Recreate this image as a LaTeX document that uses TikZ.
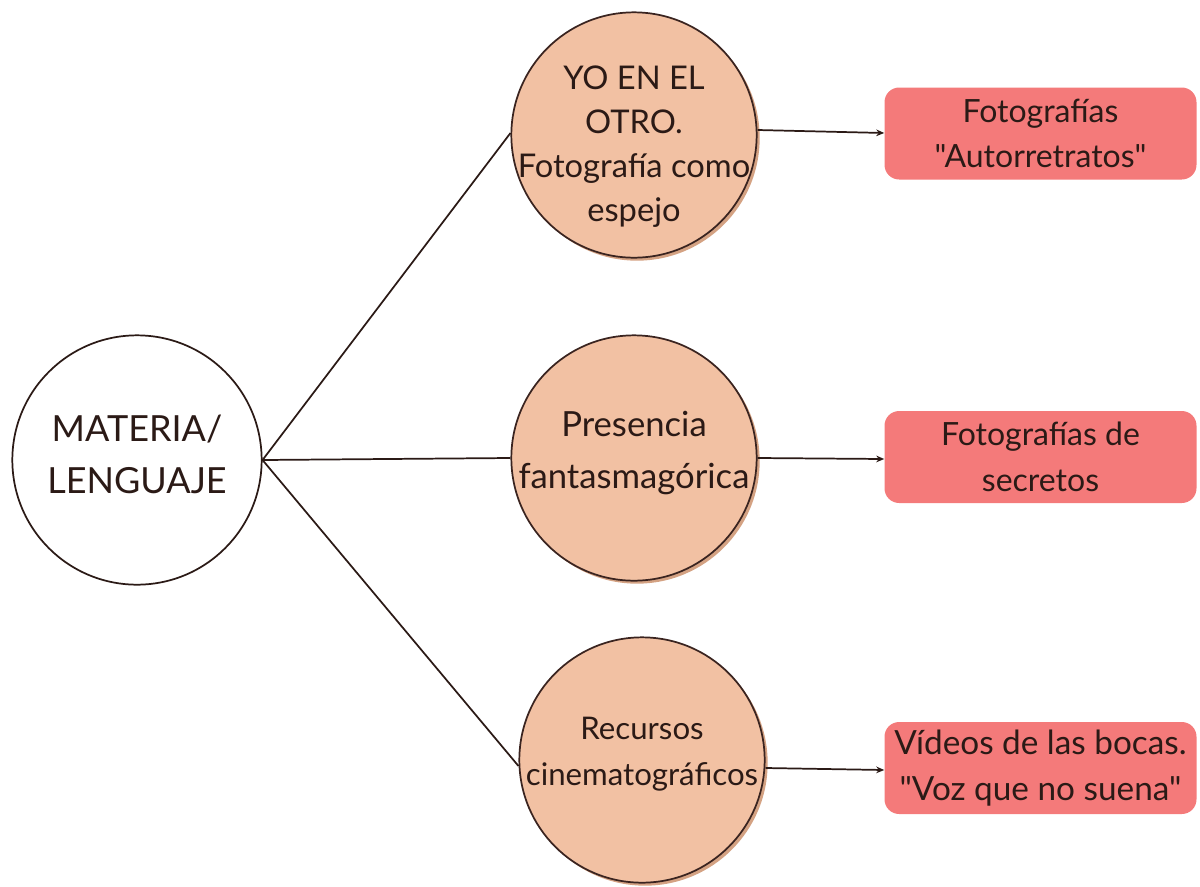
\documentclass[tikz,border=0pt]{standalone}
\usepackage{fontspec}
\setmainfont{Lato}[Ligatures=TeXOff]
\usetikzlibrary{arrows.meta}
\definecolor{peach}{HTML}{F2C1A3}
\definecolor{peachshadow}{HTML}{D4A283}
\definecolor{boxred}{HTML}{F47A7A}
\definecolor{ink}{HTML}{2B1A16}
\definecolor{rim}{HTML}{3A2420}
\newcommand{\circtext}[2]{\makebox[0pt]{\raisebox{#1}[0pt][0pt]{\begin{tabular}{@{}c@{}}#2\end{tabular}}}}
\tikzset{
  main/.style={circle, draw=ink, line width=1.3pt, fill=white, minimum size=187pt, inner sep=0pt, text=ink},
  sub/.style={circle, draw=rim, line width=1.3pt, fill=peach, minimum size=184pt, inner sep=0pt, text=ink},
  shade/.style={circle, fill=peachshadow, minimum size=184pt, inner sep=0pt},
  outbox/.style={rectangle, rounded corners=11pt, fill=boxred, minimum width=234pt, minimum height=69pt, inner sep=0pt, align=center, text=ink, font=\fontsize{24}{34}\selectfont},
  link/.style={draw=ink, line width=1.3pt},
  arr/.style={draw=ink, line width=1.3pt, -{Stealth[length=6pt,width=5pt]}}
}
\begin{document}
\begin{tikzpicture}[x=0.75pt,y=-0.75pt]
\useasboundingbox (0,0) rectangle (1200,886);
% shadows
\node[shade] (s1) at (637,138) {};
\node[shade] (s2) at (637,461) {};
\node[shade] (s3) at (645,763) {};
% nodes
\node[main, font=\fontsize{27}{39}\selectfont] (m) at (137,460) {\circtext{-4pt}{MATERIA/\\LENGUAJE}};
\node[sub, font=\fontsize{24.5}{33}\selectfont] (c1) at (634,135) {\circtext{-14.8pt}{YO EN EL\\OTRO.\\Fotografía como\\espejo}};
\node[sub, font=\fontsize{26}{39}\selectfont] (c2) at (634,458) {\circtext{-1.5pt}{Presencia\\fantasmagórica}};
\node[sub, font=\fontsize{23.4}{35}\selectfont] (c3) at (642,760) {\circtext{-1.2pt}{Recursos\\cinematográficos}};
\node[outbox] (b1) at (1040.5,133.5) {Fotografías\\"Autorretratos"};
\node[outbox] (b2) at (1040.5,457) {Fotografías de\\secretos};
\node[outbox, font=\fontsize{25}{34}\selectfont] (b3) at (1040.5,768) {Vídeos de las bocas.\\"Voz que no suena"};
% connectors
\coordinate (hub) at (m.east);
\draw[link] (hub) -- (c1.west |- 0,133);
\draw[link] (hub) -- (c2.west);
\draw[link] (hub) -- (c3.west |- 0,766);
\draw[arr] (c1.east |- 0,130) -- (b1.west |- 0,133);
\draw[arr] (c2.east) -- (b2.west |- 0,459);
\draw[arr] (c3.east |- 0,768) -- (b3.west |- 0,770);
\end{tikzpicture}
\end{document}
